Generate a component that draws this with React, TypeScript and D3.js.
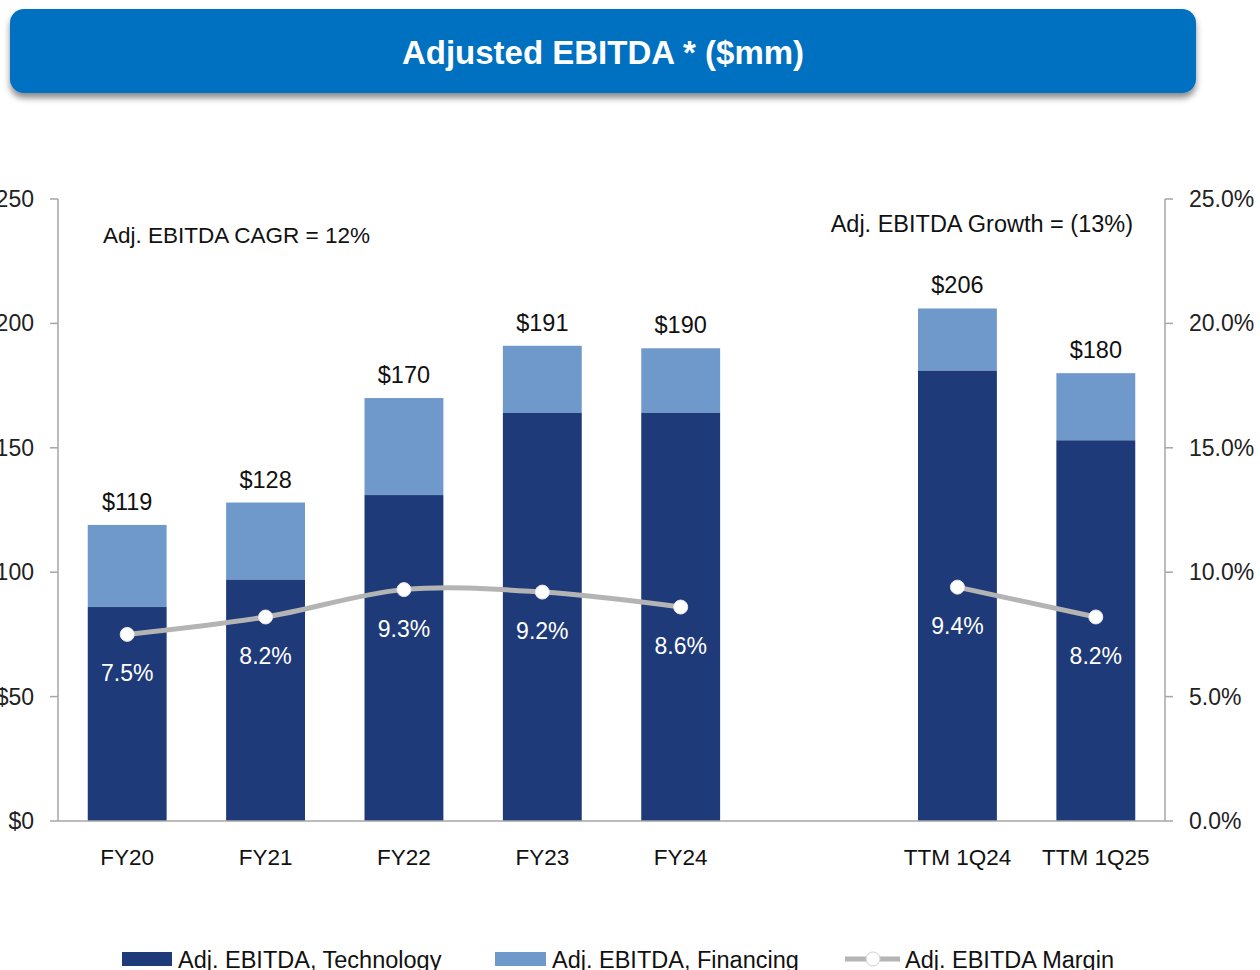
import React from "react";
import * as d3 from "d3";

const categories = ["FY20", "FY21", "FY22", "FY23", "FY24", "gap", "TTM 1Q24", "TTM 1Q25"];
const technology = [86, 97, 131, 164, 164, null, 181, 153];
const totals = [119, 128, 170, 191, 190, null, 206, 180];
const margins = [7.5, 8.2, 9.3, 9.2, 8.6, null, 9.4, 8.2];
const leftTicks = [0, 50, 100, 150, 200, 250];
const rightTicks = [0, 5, 10, 15, 20, 25];

const W = 1260;
const H = 970;
const FONT = "'Liberation Sans', Arial, sans-serif";
const DARK = "#1F3A78";
const LIGHT = "#7099CB";
const LINE = "#B4B4B4";

const App = () => {
  const x = d3.scaleBand().domain(categories).range([58, 1165]).paddingInner(0.43).paddingOuter(0.215);
  const y = d3.scaleLinear().domain([0, 250]).range([821, 199]);
  const yr = d3.scaleLinear().domain([0, 25]).range([821, 199]);
  const cx = (c) => (x(c) as number) + x.bandwidth() / 2;

  const idx = categories.map((c, i) => i).filter((i) => totals[i] != null);
  const fyIdx = idx.filter((i) => i < 5);
  const ttmIdx = idx.filter((i) => i > 5);

  const curved = d3
    .line<number>()
    .x((i) => cx(categories[i]))
    .y((i) => yr(margins[i] as number))
    .curve(d3.curveCatmullRom.alpha(0.5));
  const straight = d3
    .line<number>()
    .x((i) => cx(categories[i]))
    .y((i) => yr(margins[i] as number));

  return (
    <svg width={W} height={H} style={{ position: "absolute", left: 0, top: 0, display: "block" }} fontFamily={FONT}>
      <defs>
        <filter id="shadow" x="-5%" y="-20%" width="110%" height="160%">
          <feDropShadow dx="0" dy="5" stdDeviation="3" floodColor="#000" floodOpacity="0.45" />
        </filter>
      </defs>
      <rect x={0} y={0} width={W} height={H} fill="#fff" />

      {/* title banner */}
      <rect x={10} y={9} width={1186} height={84} rx={14} fill="#0070C0" filter="url(#shadow)" />
      <text x={603} y={64} textAnchor="middle" fill="#fff" fontSize={33} fontWeight="bold">
        Adjusted EBITDA * ($mm)
      </text>

      {/* axes */}
      <line x1={58} x2={58} y1={199} y2={821} stroke="#A6A6A6" strokeWidth={1.5} />
      <line x1={1165} x2={1165} y1={199} y2={821} stroke="#A6A6A6" strokeWidth={1.5} />
      {leftTicks.map((t) => (
        <g key={"l" + t}>
          <line x1={50} x2={58} y1={y(t)} y2={y(t)} stroke="#A6A6A6" strokeWidth={1.5} />
          <text x={34} y={y(t) + 8} textAnchor="end" fontSize={23} fill="#222">
            {"$" + t}
          </text>
        </g>
      ))}
      {rightTicks.map((t) => (
        <g key={"r" + t}>
          <line x1={1165} x2={1173} y1={yr(t)} y2={yr(t)} stroke="#A6A6A6" strokeWidth={1.5} />
          <text x={1189} y={yr(t) + 8} textAnchor="start" fontSize={23} fill="#222">
            {t.toFixed(1) + "%"}
          </text>
        </g>
      ))}

      {/* bars */}
      {idx.map((i) => {
        const c = categories[i];
        const tech = technology[i] as number;
        const tot = totals[i] as number;
        return (
          <g key={c}>
            <rect x={x(c)} y={y(tot)} width={x.bandwidth()} height={y(tech) - y(tot)} fill={LIGHT} />
            <rect x={x(c)} y={y(tech)} width={x.bandwidth()} height={y(0) - y(tech)} fill={DARK} />
            <text x={cx(c)} y={y(tot) - 15} textAnchor="middle" fontSize={23.5} fill="#111">
              {"$" + tot}
            </text>
            <text x={cx(c)} y={865} textAnchor="middle" fontSize={22.5} fill="#111">
              {c}
            </text>
          </g>
        );
      })}
      <line x1={58} x2={1165} y1={821} y2={821} stroke="#A6A6A6" strokeWidth={1.5} />

      {/* margin line */}
      <path d={curved(fyIdx) as string} fill="none" stroke={LINE} strokeWidth={5} />
      <path d={straight(ttmIdx) as string} fill="none" stroke={LINE} strokeWidth={5} />
      {idx.map((i) => (
        <g key={"m" + i}>
          <circle cx={cx(categories[i])} cy={yr(margins[i] as number)} r={7} fill="#fff" stroke="#E6E6E6" strokeWidth={1} />
          <text x={cx(categories[i])} y={yr(margins[i] as number) + 47} textAnchor="middle" fontSize={23} fill="#fff">
            {(margins[i] as number).toFixed(1) + "%"}
          </text>
        </g>
      ))}

      {/* annotations */}
      <text x={103} y={243} fontSize={22.5} fill="#111">
        Adj. EBITDA CAGR = 12%
      </text>
      <text x={1133} y={232} textAnchor="end" fontSize={23.5} fill="#111">
        Adj. EBITDA Growth = (13%)
      </text>

      {/* legend */}
      <rect x={122} y={952} width={50} height={14} fill={DARK} />
      <text x={178} y={968} fontSize={23.5} fill="#111">
        Adj. EBITDA, Technology
      </text>
      <rect x={495} y={952} width={51} height={14} fill={LIGHT} />
      <text x={552} y={968} fontSize={23.5} fill="#111">
        Adj. EBITDA, Financing
      </text>
      <line x1={845} x2={900} y1={959} y2={959} stroke={LINE} strokeWidth={5} />
      <circle cx={873} cy={959} r={7} fill="#fff" stroke="#D0D0D0" strokeWidth={1} />
      <text x={905} y={968} fontSize={23.5} fill="#111">
        Adj. EBITDA Margin
      </text>
    </svg>
  );
};

export default App;
